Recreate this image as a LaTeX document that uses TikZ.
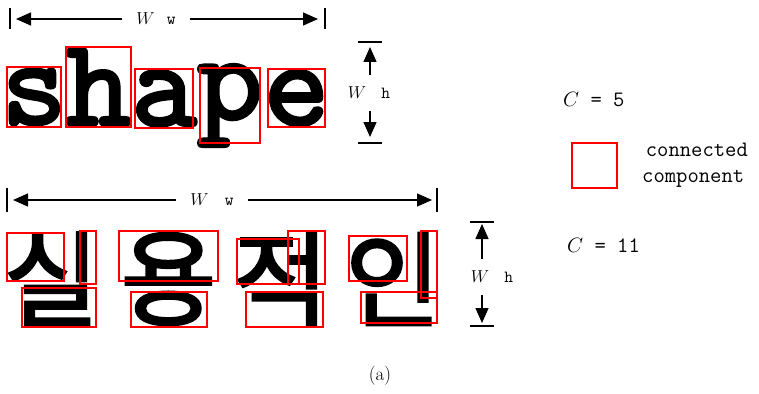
\documentclass[tikz,border=0pt]{standalone}
\usepackage{fontspec}
\usetikzlibrary{arrows.meta}
\newfontfamily\hangul[FakeBold=2.5]{Noto Sans CJK KR}
\newfontfamily\heavytt[FakeBold=1]{lmmonolt10-bold.otf}
\tikzset{font={\fontsize{17pt}{10}\selectfont}}
\tikzset{
  cc/.style={draw=red, line width=1.2pt},
  dim/.style={line width=1.3pt, -{Triangle[length=15pt,width=13pt]}},
  bar/.style={line width=1.3pt},
  glyph/.style={inner sep=0pt, font={\fontsize{128pt}{128}\selectfont\heavytt}},
  hglyph/.style={inner sep=0pt, font={\fontsize{104pt}{104}\selectfont\hangul}},
  wlab/.style={inner xsep=14pt, inner ysep=2pt},
  hlab/.style={inner xsep=2pt, inner ysep=12pt},
  legend/.style={inner sep=0pt, font={\fontsize{22pt}{26}\selectfont\ttfamily}}
}

\begin{document}
\begin{tikzpicture}[x=1pt,y=-1pt]
      \useasboundingbox (0,0) rectangle (759,393);
      %letters
      \foreach \l/\x/\y in {s/34/97, h/98.5/87, a/164/98.5, p/230/105.5, e/296.5/98}
	\node[glyph] (\l) at (\x,\y) {\l};
      \foreach \n/\k/\x in {k1/실/51.5, k2/용/168.5, k3/적/281, k4/인/393}
	\node[hglyph] (\n) at (\x,279) {\k};
      %components (top word)
      \foreach \xa/\ya/\xb/\yb in {7/67/61/127, 66/47/131/127, 135/69/193/128,
                                   200/68/260/143, 268/69/325/127}
	\draw[cc] (\xa,\ya) rectangle (\xb,\yb);
      %components (bottom word)
      \foreach \xa/\ya/\xb/\yb in {7/233/64/281, 80/231/96/284, 22/288/96/327,
                                   119/231/218/281, 131/292/207/327,
                                   237/239/299/284, 288/231/325/284, 246/292/323/327,
                                   349/236/407/281, 421/231/437/298, 361/292/437/323}
	\draw[cc] (\xa,\ya) rectangle (\xb,\yb);
      %widths
      \node[wlab] (ww1) at (156,19) {$W$\hspace{12pt}\texttt{w}};
      \coordinate (ww1L) at (16,19);
      \coordinate (ww1R) at (318,19);
      \draw[dim] (ww1.west) -- (ww1L);
      \draw[dim] (ww1.east) -- (ww1R);
      \draw[bar] (10,8) -- (10,29);
      \draw[bar] (325,8) -- (325,29);
      \node[wlab] (ww2) at (212,200) {$W$\hspace{16pt}\texttt{w}};
      \coordinate (ww2L) at (13,200);
      \coordinate (ww2R) at (432,200);
      \draw[dim] (ww2.west) -- (ww2L);
      \draw[dim] (ww2.east) -- (ww2R);
      \draw[bar] (7,188) -- (7,212);
      \draw[bar] (437,188) -- (437,212);
      %heights
      \node[hlab] (wh1) at (369,93) {$W$\hspace{15pt}\texttt{h}};
      \coordinate (wh1T) at (370,47);
      \coordinate (wh1B) at (370,137);
      \draw[dim] (wh1.north -| wh1T) -- (wh1T);
      \draw[dim] (wh1.south -| wh1B) -- (wh1B);
      \draw[bar] (358,42) -- (382,42);
      \draw[bar] (358,143) -- (382,143);
      \node[hlab] (wh2) at (492,277) {$W$\hspace{15pt}\texttt{h}};
      \coordinate (wh2T) at (482,224);
      \coordinate (wh2B) at (482,323);
      \draw[dim] (wh2.north -| wh2T) -- (wh2T);
      \draw[dim] (wh2.south -| wh2B) -- (wh2B);
      \draw[bar] (470,222) -- (494,222);
      \draw[bar] (470,326) -- (494,326);
      %legend
      \node[legend, anchor=west] (c5) at (563,100) {$C$ = 5};
      \draw[cc] (572,143) rectangle (617,188);
      \node[legend, anchor=west, align=left] (ccomp) at (642,165.5) {\,connected\\component};
      \node[legend, anchor=west] (c11) at (567,245) {$C$ = 11};
      %caption
      \node[font={\fontsize{19pt}{20}\selectfont}] (cap) at (380,376) {(a)};
\end{tikzpicture}
\end{document}
